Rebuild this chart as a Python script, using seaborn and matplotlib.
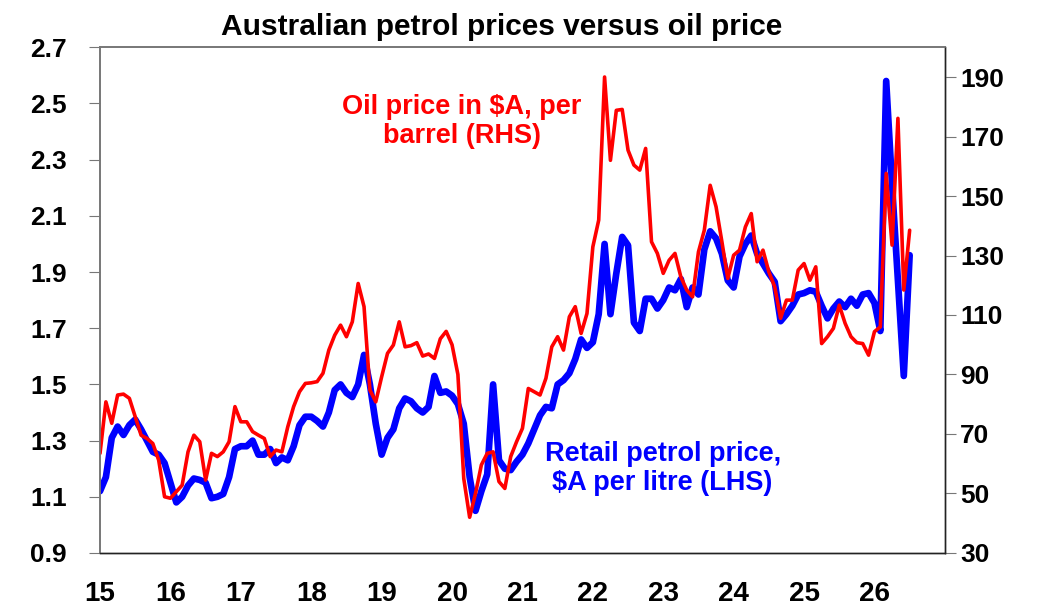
#!/usr/bin/env python3
"""
Australian petrol prices versus oil price - twin axis line chart
"""

import numpy as np
import pandas as pd
import matplotlib
matplotlib.use('Agg')
import matplotlib.pyplot as plt
import seaborn as sns

# Retail petrol price, $A per litre (LHS), monthly from Jan 2015
petrol_2015 = [1.12, 1.17, 1.31, 1.35, 1.32, 1.355, 1.375, 1.34, 1.30, 1.26, 1.25, 1.22]
petrol_2016 = [1.15, 1.08, 1.10, 1.14, 1.165, 1.16, 1.15, 1.095, 1.10, 1.11, 1.17, 1.27]
petrol_2017 = [1.28, 1.28, 1.30, 1.25, 1.25, 1.27, 1.22, 1.24, 1.23, 1.28, 1.355, 1.385]
petrol_2018 = [1.385, 1.37, 1.35, 1.40, 1.48, 1.50, 1.47, 1.455, 1.50, 1.605, 1.50, 1.36]
petrol_2019 = [1.25, 1.31, 1.34, 1.415, 1.45, 1.44, 1.415, 1.40, 1.42, 1.53, 1.47, 1.475]
petrol_2020 = [1.46, 1.43, 1.36, 1.17, 1.05, 1.12, 1.18, 1.50, 1.23, 1.20, 1.195, 1.225]
petrol_2021 = [1.25, 1.29, 1.34, 1.39, 1.42, 1.415, 1.50, 1.515, 1.54, 1.59, 1.66, 1.63]
petrol_2022 = [1.65, 1.75, 2.00, 1.75, 1.895, 2.025, 1.995, 1.72, 1.69, 1.805, 1.805, 1.77]
petrol_2023 = [1.80, 1.845, 1.835, 1.875, 1.775, 1.845, 1.82, 1.98, 2.045, 2.02, 1.965, 1.87]
petrol_2024 = [1.845, 1.955, 2.00, 2.03, 1.965, 1.93, 1.895, 1.865, 1.725, 1.75, 1.78, 1.82]
petrol_2025 = [1.825, 1.835, 1.83, 1.78, 1.735, 1.77, 1.795, 1.775, 1.805, 1.78, 1.82, 1.825]
petrol_2026 = [1.79, 1.69, 2.58, 2.21, 1.87, 1.53, 1.96]

# Oil price in $A per barrel (RHS), monthly from Jan 2015
oil_2015 = [63.5, 80.8, 73.6, 83.1, 83.4, 82, 75.8, 69.6, 68.5, 66.8, 61.2, 48.9]
oil_2016 = [48.4, 50.6, 52.8, 64, 69.6, 67.4, 54.5, 63.5, 62.4, 64, 67.4, 79.2]
oil_2017 = [74.1, 74.1, 70.8, 69.6, 68.5, 62.4, 64.6, 64, 72.4, 79.2, 84.2, 87]
oil_2018 = [87.2, 87.6, 90.4, 98.2, 103.2, 106.6, 102.7, 107.7, 120.6, 112.8, 84.8, 80.8]
oil_2019 = [89.2, 97.1, 99.9, 107.7, 99.3, 99.7, 100.7, 96.2, 96.9, 95.4, 102, 104.5]
oil_2020 = [100, 90, 55, 42, 50, 59.6, 63.5, 64, 54, 51.7, 62.4, 67.4]
oil_2021 = [71.9, 85.3, 84.2, 83.1, 88.7, 99.3, 102.7, 98.2, 109.4, 112.8, 103.8, 110.5]
oil_2022 = [132.9, 141.9, 190, 162, 178.8, 179.1, 165.4, 160.4, 158.7, 166, 134.6, 130.7]
oil_2023 = [124, 128.4, 130.7, 122.8, 118.4, 116.1, 131.2, 138.5, 153.6, 146.4, 134.6, 122.3]
oil_2024 = [130.1, 131.8, 139.6, 144.1, 127.9, 131.8, 124.5, 119.5, 108.9, 115, 115, 125.1]
oil_2025 = [127.3, 121.7, 126.2, 100.4, 102.7, 105.5, 113.3, 107.2, 102.7, 100.7, 100.4, 96.5]
oil_2026 = [104.4, 106, 157.6, 133.5, 176.1, 118.4, 138.5]

year_labels = ['15', '16', '17', '18', '19', '20', '21', '22', '23', '24', '25', '26', '']
left_ticks = [0.9, 1.1, 1.3, 1.5, 1.7, 1.9, 2.1, 2.3, 2.5, 2.7]
right_ticks = [30, 50, 70, 90, 110, 130, 150, 170, 190]


def build_frame():
    petrol = (petrol_2015 + petrol_2016 + petrol_2017 + petrol_2018 + petrol_2019 + petrol_2020
              + petrol_2021 + petrol_2022 + petrol_2023 + petrol_2024 + petrol_2025 + petrol_2026)
    oil = (oil_2015 + oil_2016 + oil_2017 + oil_2018 + oil_2019 + oil_2020
           + oil_2021 + oil_2022 + oil_2023 + oil_2024 + oil_2025 + oil_2026)
    # x in years since 2000 so ticks read 15, 16, ...
    t = 15 + np.arange(len(petrol)) / 12.0
    return pd.DataFrame({'t': t, 'petrol': petrol, 'oil': oil})


def main():
    df = build_frame()

    sns.set_style('white')
    plt.rcParams['font.family'] = ['Liberation Sans', 'DejaVu Sans']
    plt.rcParams['font.weight'] = 'bold'
    plt.rcParams['text.color'] = 'black'
    plt.rcParams['xtick.color'] = 'black'
    plt.rcParams['ytick.color'] = 'black'

    fig = plt.figure(figsize=(10.43, 6.13), dpi=100)
    ax = fig.add_axes([0.0959, 0.0979, 0.810, 0.825])
    ax2 = ax.twinx()

    sns.lineplot(data=df, x='t', y='petrol', ax=ax, color='#0000FF', linewidth=4.8)
    sns.lineplot(data=df, x='t', y='oil', ax=ax2, color='#FF0000', linewidth=2.6)

    ax.set_xlim(15, 27)
    ax.set_ylim(0.9, 2.7)
    ax2.set_ylim(30, 200)

    ax.set_xticks(range(15, 28))
    ax.set_xticklabels(year_labels, fontsize=20, fontweight='bold')
    ax.set_yticks(left_ticks)
    ax.set_yticklabels([f'{v:.1f}' for v in left_ticks], fontsize=19, fontweight='bold')
    ax2.set_yticks(right_ticks)
    ax2.set_yticklabels([str(v) for v in right_ticks], fontsize=19, fontweight='bold')

    ax.set_xlabel('')
    ax.set_ylabel('')
    ax2.set_ylabel('')

    ax.tick_params(axis='x', direction='out', length=8, width=0.8, color='#555555', pad=12)
    ax.tick_params(axis='y', direction='out', length=8, width=0.8, color='#777777', pad=16, left=True)
    ax2.tick_params(axis='y', direction='out', length=8, width=0.8, color='#777777', pad=3, right=True)

    for a in (ax, ax2):
        for side in ('left', 'top'):
            a.spines[side].set_color('#777777')
            a.spines[side].set_linewidth(1.2)
        for side in ('bottom', 'right'):
            a.spines[side].set_color('#222222')
            a.spines[side].set_linewidth(1.0)

    ax.text(0.428, 0.854, 'Oil price in $A, per\nbarrel (RHS)', transform=ax.transAxes,
            ha='center', va='center', color='#FF0000', fontsize=19.5, fontweight='bold',
            linespacing=1.15)
    ax.text(0.666, 0.168, 'Retail petrol price,\n$A per litre (LHS)', transform=ax.transAxes,
            ha='center', va='center', color='#0000FF', fontsize=19.5, fontweight='bold',
            linespacing=1.15)

    fig.text(0.481, 0.956, 'Australian petrol prices versus oil price', ha='center', va='center',
             fontsize=21.5, fontweight='bold', color='black')

    fig.savefig('out.png', dpi=100, facecolor='white')


if __name__ == '__main__':
    main()
